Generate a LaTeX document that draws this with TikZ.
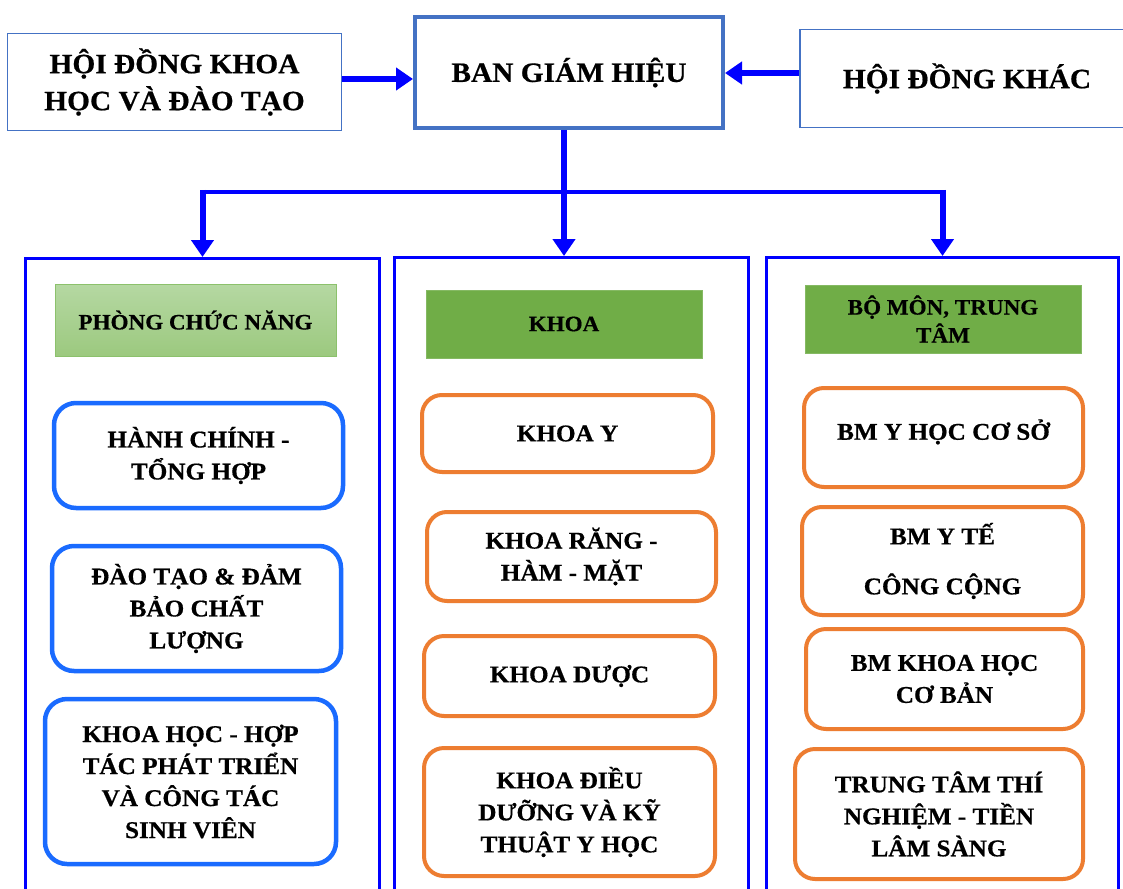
\documentclass[tikz,border=0pt]{standalone}
\usepackage{fontspec}
\setmainfont{Liberation Serif}[FakeStretch=1.05, BoldFeatures={FakeBold=0.6}]
\usetikzlibrary{arrows.meta}
\definecolor{topblue}{HTML}{4472C4}
\definecolor{pureblue}{HTML}{0000FF}
\definecolor{lblue}{HTML}{1A6BFF}
\definecolor{orng}{HTML}{ED7D31}
\definecolor{grn}{HTML}{70AD47}
\definecolor{lgrntop}{HTML}{B5D8A2}
\definecolor{lgrnbot}{HTML}{9CC97F}
\definecolor{lgrnline}{HTML}{8CC16C}
\tikzset{
  topbox/.style={draw=topblue, line width=1.5pt, fill=white, align=center, inner sep=0pt,
    font=\fontsize{28}{37}\selectfont\bfseries},
  container/.style={draw=pureblue, line width=3pt, inner sep=0pt},
  hdr/.style={fill=grn, draw=grn!85!white, line width=0.8pt, align=center, inner sep=0pt,
    font=\fontsize{22}{28}\selectfont\bfseries},
  lbox/.style={draw=lblue, line width=4.5pt, rounded corners=22pt, align=center, inner sep=0pt,
    font=\fontsize{24}{32}\selectfont\bfseries},
  obox/.style={draw=orng, line width=4pt, rounded corners=20pt, align=center, inner sep=0pt,
    font=\fontsize{24}{32}\selectfont\bfseries},
  arr/.style={draw=pureblue, line width=6pt, -{Triangle[width=22pt,length=17pt]}},
  busline/.style={draw=pureblue, line width=4.5pt}
}
\begin{document}
\begin{tikzpicture}[x=1pt,y=-1pt]
\useasboundingbox (0,0) rectangle (1123,888);
\clip (0,0) rectangle (1123,888);
\fill[white] (0,0) rectangle (1123,888);

% containers
\node[container, minimum width=354pt, minimum height=641pt] (c1) at (202.5,579) {};
\node[container, minimum width=354pt, minimum height=641pt] (c2) at (571.5,578) {};
\node[container, minimum width=352pt, minimum height=641pt] (c3) at (942.5,578) {};

% top boxes
\node[topbox, minimum width=334pt, minimum height=97pt] (hdkh) at (174.5,82) {HỘI ĐỒNG KHOA\\HỌC VÀ ĐÀO TẠO};
\node[topbox, line width=4pt, minimum width=308pt, minimum height=111pt] (bgh) at (569,72.5) {BAN GIÁM HIỆU};
\node[topbox, minimum width=334pt, minimum height=98pt] (hdk) at (967,78.5) {HỘI ĐỒNG KHÁC};

% arrows top
\draw[arr] ([yshift=3pt]hdkh.east) -- ([yshift=3pt]hdkh.east -| bgh.west);
\draw[arr] ([yshift=5.5pt]hdk.west) -- ([yshift=5.5pt]hdk.west -| bgh.east);

\coordinate (j) at ([xshift=-5pt]bgh.south |- 0,192);
\draw[busline] (c1.north |- j) -- (c3.north |- j);
\draw[arr] ([xshift=-5pt]bgh.south) -- (j |- c2.north);
\draw[arr] ([yshift=2.25pt]c1.north |- j) -- (c1.north);
\draw[arr] ([yshift=2.25pt]c3.north |- j) -- (c3.north);

% headers
\node[hdr, fill=none, top color=lgrntop, bottom color=lgrnbot, draw=lgrnline, minimum width=281pt, minimum height=72pt] (h1) at (195.5,320) {PHÒNG CHỨC NĂNG};
\node[hdr, minimum width=276pt, minimum height=68pt] (h2) at (564,324) {KHOA};
\node[hdr, minimum width=276pt, minimum height=68pt] (h3) at (943,319) {BỘ MÔN, TRUNG\\TÂM};

% left column
\node[lbox, minimum width=289pt, minimum height=105pt] (l1) at (198.5,455.5) {HÀNH CHÍNH -\\TỔNG HỢP};
\node[lbox, minimum width=289pt, minimum height=125pt] (l2) at (196.5,608.5) {ĐÀO TẠO \& ĐẢM\\BẢO CHẤT\\LƯỢNG};
\node[lbox, minimum width=291pt, minimum height=165pt] (l3) at (190.5,781.5) {KHOA HỌC - HỢP\\TÁC PHÁT TRIỂN\\VÀ CÔNG TÁC\\SINH VIÊN};

% middle column
\node[obox, minimum width=291pt, minimum height=77pt] (m1) at (567.5,433.5) {KHOA Y};
\node[obox, minimum width=289pt, minimum height=89pt] (m2) at (571.5,556.5) {KHOA RĂNG -\\HÀM - MẶT};
\node[obox, minimum width=291pt, minimum height=80pt] (m3) at (569.5,676) {KHOA DƯỢC};
\node[obox, minimum width=291pt, minimum height=128pt] (m4) at (569.5,812) {KHOA ĐIỀU\\DƯỠNG VÀ KỸ\\THUẬT Y HỌC};

% right column
\node[obox, text depth=16pt, minimum width=279pt, minimum height=99pt] (r1) at (943.5,437.5) {BM Y HỌC CƠ SỞ};
\node[obox, minimum width=281pt, minimum height=108pt] (r2) at (942.5,561) {BM Y TẾ\\[18pt]CÔNG CỘNG};
\node[obox, minimum width=277pt, minimum height=100pt] (r3) at (944.5,679) {BM KHOA HỌC\\CƠ BẢN};
\node[obox, minimum width=288pt, minimum height=130pt] (r4) at (939,814) {TRUNG TÂM THÍ\\NGHIỆM - TIỀN\\LÂM SÀNG};
\end{tikzpicture}
\end{document}
